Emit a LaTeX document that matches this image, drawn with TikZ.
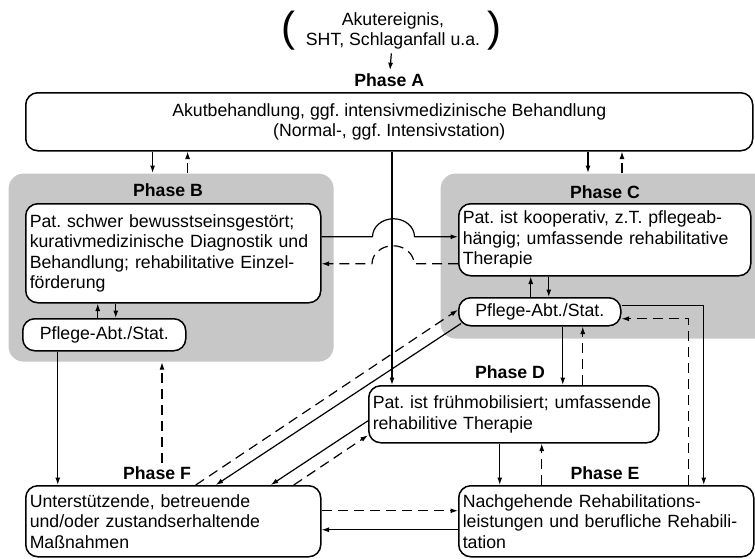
\documentclass[tikz,border=0pt]{standalone}
\usepackage{fontspec}
\setmainfont{Liberation Sans}
\usepackage{tikz}
\usetikzlibrary{arrows.meta, positioning}
\frenchspacing

\begin{document}
\begin{tikzpicture}[>={Latex[length=7.5pt, width=5pt]}, line join=bevel, x=1pt, y=-1pt, line width=1.2pt,
        every node/.style={font=\fontsize{17.7}{20.5}\selectfont},
        box/.style={draw, line width=1.5pt, fill=white, rounded corners=12pt, inner sep=4pt, anchor=north west},
        phase/.style={font=\fontsize{17.7}{20.5}\selectfont\bfseries},
        group/.style={fill=black!22, rounded corners=15pt, inner sep=0pt, anchor=north west},
        backlink/.style={dash pattern=on 10pt off 6pt}]
    \useasboundingbox[fill=white] (0,0) rectangle (755,558);

    % shaded phase areas
    \node[group, minimum width=325pt, minimum height=188pt] (grpB) at (8,173) {};
    \node[group, minimum width=330pt, minimum height=165pt] (grpC) at (440,173) {};

    % start
    \node[align=center] (event) at (393,31) {Akutereignis,\\SHT, Schlaganfall u.a.};
    \node (lpar) at (288,31) {\fontsize{42}{42}\selectfont (};
    \node (rpar) at (494,31) {\fontsize{42}{42}\selectfont )};

    \node[box, minimum width=727pt, minimum height=58pt, align=center] (A) at (25,92)
        {Akutbehandlung, ggf. intensivmedizinische Behandlung\\(Normal-, ggf. Intensivstation)};
    \node[phase, above=1pt of A] (labA) {Phase A};

    \node[phase] (labB) at (168,190) {Phase B};
    \node[box, minimum height=99pt, text width=287pt, align=left] (B) at (25,203)
        {Pat. schwer bewusstseinsgestört;\\kurativmedizinische Diagnostik und\\Behandlung; rehabilitative Einzel-\\förderung};
    \node[box, minimum width=163pt, minimum height=32pt, align=center] (pflB) at (22,318) {Pflege-Abt./Stat.};

    \node[phase] (labC) at (605,192) {Phase C};
    \node[box, minimum height=72pt, text width=284pt, align=left] (C) at (458,203)
        {Pat. ist kooperativ, z.T. pflegeab-\\hängig; umfassende rehabilitative\\Therapie};
    \node[box, minimum width=162pt, minimum height=28pt, align=center] (pflC) at (458,297) {Pflege-Abt./Stat.};

    \node[phase] (labD) at (510,372) {Phase D};
    \node[box, minimum height=57pt, text width=282pt, align=left] (D) at (368,385)
        {Pat. ist frühmobilisiert; umfassende\\rehabilitive Therapie};

    \node[phase] (labE) at (605,473) {Phase E};
    \node[box, minimum height=71pt, text width=287pt, align=left] (E) at (458,485)
        {Nachgehende Rehabilitations-\\leistungen und berufliche Rehabili-\\tation};

    \node[phase] (labF) at (157,473) {Phase F};
    \node[box, minimum height=71pt, text width=287pt, align=left] (F) at (25,485)
        {Unterstützende, betreuende\\und/oder zustandserhaltende\\Maßnahmen};

    % A
    \draw[->] (event) -- (labA);
    \draw[->] ([xshift=-18.5pt]grpB.north |- A.south) -- ([xshift=-18.5pt]grpB.north);
    \draw[->, backlink] ([xshift=16.5pt]grpB.north) -- ([xshift=16.5pt]grpB.north |- A.south);
    \draw[->] ([xshift=-17pt]labC.north |- A.south) -- ([xshift=-17pt]labC.north |- grpC.north);
    \draw[->, backlink] ([xshift=17pt]labC.north |- grpC.north) -- ([xshift=17pt]labC.north |- A.south);
    \draw[->] ([xshift=24pt]D.north west |- A.south) -- ([xshift=24pt]D.north west);

    % B <-> C, hopping over the line A -> D
    \draw[->] ([yshift=16.5pt]B.east) -- ++(51,0)
        arc[start angle=180, end angle=0, x radius=21pt, y radius=18pt]
        -- ([yshift=16.5pt]B.east -| C.west);
    \draw[->, backlink] ([yshift=-24pt]C.west) -- ++(-44,0)
        arc[start angle=0, end angle=180, x radius=21pt, y radius=18pt]
        -- ([yshift=-24pt]C.west -| B.east);

    % care wards
    \draw[->] ([xshift=-6.5pt]pflB.north) -- ([xshift=-6.5pt]pflB.north |- B.south);
    \draw[->] ([xshift=11.5pt]pflB.north |- B.south) -- ([xshift=11.5pt]pflB.north);
    \draw[->] ([xshift=-9pt]pflC.north) -- ([xshift=-9pt]pflC.north |- C.south);
    \draw[->] ([xshift=9pt]pflC.north |- C.south) -- ([xshift=9pt]pflC.north);

    % C -> D -> E
    \draw[->] ([xshift=49pt]D.north |- pflC.south) -- ([xshift=49pt]D.north);
    \draw[->, backlink] ([xshift=69pt]D.north) -- ([xshift=69pt]D.north |- pflC.south);
    \draw[->] ([xshift=-14pt]D.south) -- ([xshift=-14pt]D.south |- E.north);
    \draw[->, backlink] ([xshift=28pt]D.south |- E.north) -- ([xshift=28pt]D.south);
    \draw[->] ([yshift=6pt]pflC.east) -| ([xshift=97.5pt]E.north);
    \draw[->, backlink] ([xshift=82.5pt]E.north) |- ([yshift=-7pt]pflC.east);

    % F
    \draw[->, backlink] ([yshift=10.5pt]F.east) -- ([yshift=10.5pt]F.east -| E.west);
    \draw[->] ([yshift=-8.5pt]F.east -| E.west) -- ([yshift=-8.5pt]F.east);
    \draw[->] ([xshift=-46.5pt]pflB.south) -- ([xshift=-46.5pt]pflB.south |- F.north);
    \draw[->, backlink] ([xshift=5pt]labF.north) -- ([xshift=5pt]labF.north |- grpB.south);
    \draw[->, backlink] ([xshift=22.5pt]F.north) -- ([yshift=2pt]pflC.west);
    \draw[->] ([xshift=3pt, yshift=3pt]pflC.south west) -- ([xshift=42.5pt]F.north);
    \draw[->] ([yshift=-6.5pt]D.west) -- ([xshift=97.5pt]F.north);
    \draw[->, backlink] ([xshift=120.5pt]F.north) -- ([yshift=-21pt]D.west);
\end{tikzpicture}
\end{document}
